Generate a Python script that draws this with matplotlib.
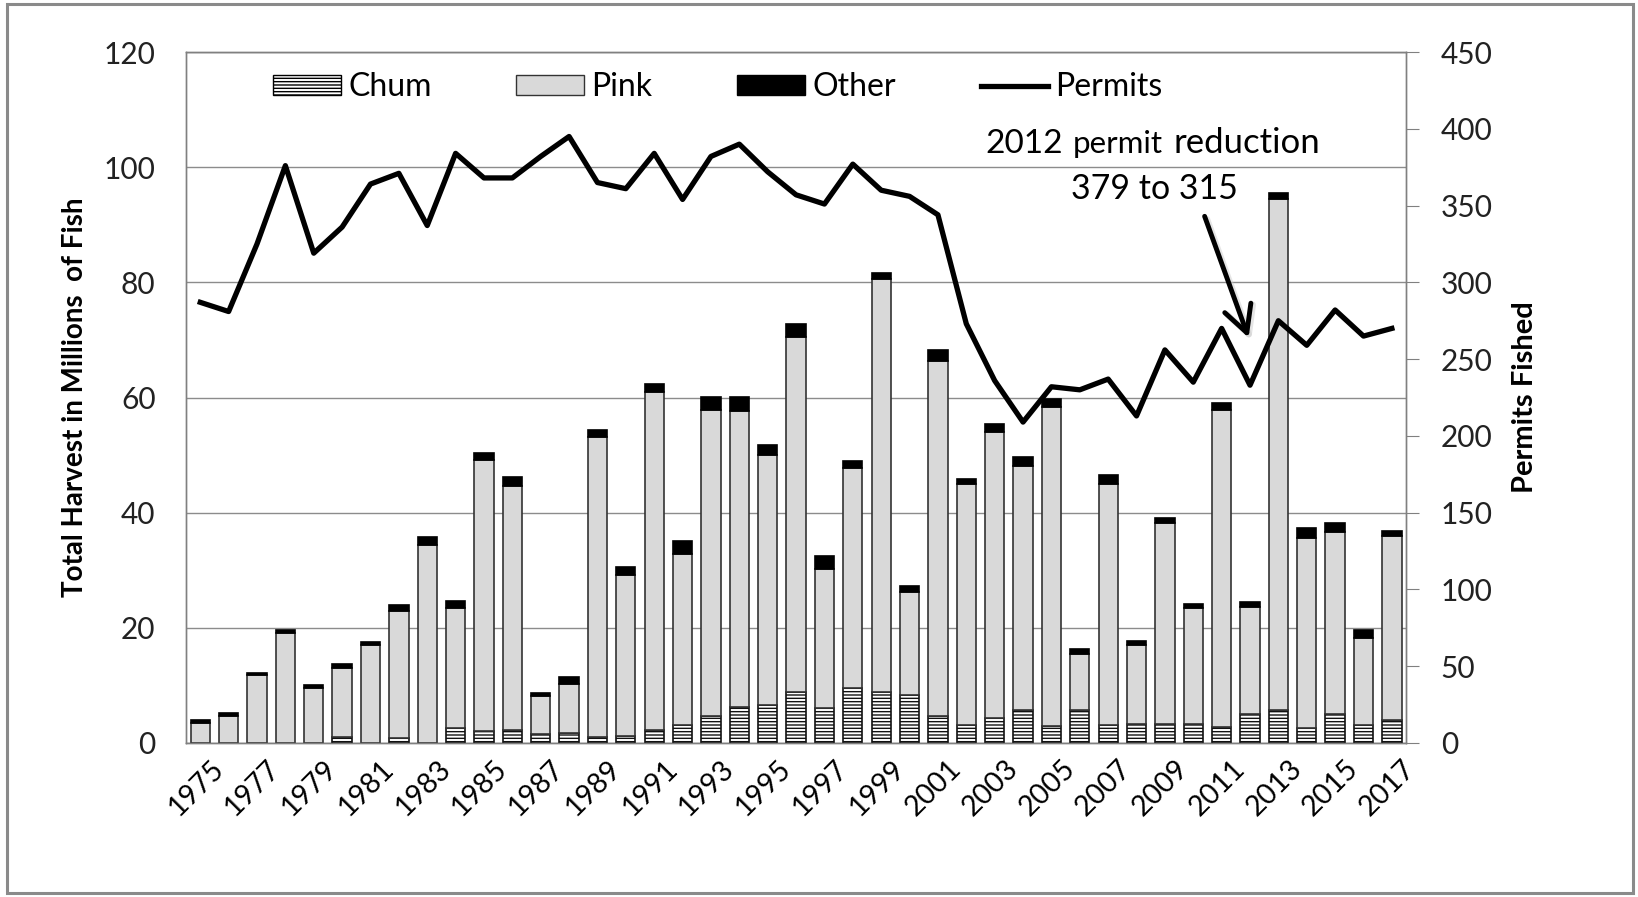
import matplotlib.pyplot as plt
from matplotlib.patches import Rectangle, Patch
from matplotlib.lines import Line2D
from matplotlib.transforms import ScaledTranslation

plt.rcParams['font.family'] = ['Lato', 'DejaVu Sans']
plt.rcParams['hatch.linewidth'] = 1.0

# Werte (Mio. Fische, Permits)
years = list(range(1975, 2018))
chum = [0.0, 0.0, 0.0, 0.0, 0.0, 1.0, 0.0, 0.8, 0.0, 2.6,
        2.1, 2.2, 1.5, 1.8, 1.1, 1.2, 2.2, 3.1, 4.7, 6.2,
        6.6, 8.9, 6.0, 9.6, 8.9, 8.4, 4.7, 3.1, 4.3, 5.7,
        3.0, 5.7, 3.1, 3.3, 3.3, 3.3, 2.7, 5.0, 5.8, 2.6,
        5.0, 3.1, 4.0]
pink = [3.4, 4.6, 11.8, 19.1, 9.5, 12.1, 17.0, 22.1, 34.4, 20.9,
        47.0, 42.5, 6.7, 8.5, 52.0, 28.0, 58.7, 29.7, 53.2, 51.5,
        43.4, 61.6, 24.3, 38.1, 71.7, 17.9, 61.7, 41.8, 49.7, 42.4,
        55.4, 9.7, 41.8, 13.7, 34.9, 20.2, 55.1, 18.7, 88.7, 33.0,
        31.7, 15.2, 31.9]
other = [0.6, 0.6, 0.4, 0.6, 0.6, 0.7, 0.5, 1.0, 1.3, 1.1,
         1.2, 1.5, 0.5, 1.2, 1.3, 1.3, 1.4, 2.2, 2.2, 2.4,
         1.7, 2.3, 2.1, 1.3, 1.1, 0.9, 1.8, 0.9, 1.4, 1.6,
         1.4, 0.9, 1.6, 0.7, 0.8, 0.6, 1.2, 0.8, 1.1, 1.7,
         1.5, 1.3, 1.0]
permits = [287, 281, 325, 376, 319, 336, 364, 371, 337, 384,
           368, 368, 382, 395, 365, 361, 384, 354, 382, 390,
           372, 357, 351, 377, 360, 356, 344, 273, 236, 209,
           232, 230, 237, 213, 256, 235, 270, 233, 275, 259,
           282, 265, 270]

left_ticks = list(range(0, 121, 20))
right_ticks = list(range(0, 451, 50))

fig = plt.figure(figsize=(16.38, 8.97), dpi=100)
fig.patches.append(Rectangle((7 / 1638, 4 / 897), 1626 / 1638, 889 / 897,
                             transform=fig.transFigure, fill=False,
                             edgecolor='#8a8a8a', lw=2.2))

ax = fig.add_axes([0.1136, 0.1717, 0.7448, 0.7703])
pink_bottom = chum
other_bottom = [c + p for c, p in zip(chum, pink)]
w = 0.68
ax.bar(years, chum, w, color='white', edgecolor='#111111', hatch='-----',
       lw=1.2, zorder=3)
ax.bar(years, pink, w, bottom=pink_bottom, color='#d9d9d9',
       edgecolor='#333333', lw=1.2, zorder=3)
ax.bar(years, other, w, bottom=other_bottom, color='black',
       edgecolor='black', lw=1.2, zorder=3)

ax.set_xlim(1974.5, 2017.5)
ax.set_ylim(0, 120)
ax.set_yticks(left_ticks)
ax.yaxis.grid(True, color='#8c8c8c', lw=1.0)
ax.set_axisbelow(True)
ax.tick_params(axis='y', length=0, pad=22, labelsize=21.5, labelcolor='#222222')
ax.set_xticks(years[::2])
ax.set_xticklabels([str(y) for y in years[::2]], rotation=45, ha='right',
                   rotation_mode='anchor', fontsize=20.5)
ax.tick_params(axis='x', length=0, pad=9)
for lbl in ax.get_xticklabels():
    lbl.set_transform(lbl.get_transform() + ScaledTranslation(0.10, 0, fig.dpi_scale_trans))
for s in ax.spines.values():
    s.set_color('#808080')
    s.set_linewidth(1.0)
ax.set_ylabel("Total Harvest in Millions  of Fish", fontsize=20, fontweight='bold')
ax.yaxis.set_label_coords(-0.0805, 0.5)

# --- Permits auf rechter Achse ---
ax2 = ax.twinx()
ax2.plot(years, permits, color='black', lw=3.8, zorder=5)
ax2.set_ylim(0, 450)
ax2.set_yticks(right_ticks)
ax2.tick_params(axis='y', direction='out', length=9, color='#808080', pad=16,
                labelsize=21.5, labelcolor='#222222')
for s in ax2.spines.values():
    s.set_color('#808080')
    s.set_linewidth(1.0)
ax2.set_ylabel("Permits Fished", fontsize=21, fontweight='bold')
ax2.yaxis.set_label_coords(1.087, 0.5)

# Beschriftung der Permit-Reduktion
ax2.text(0.655, 0.854, "2012", transform=ax2.transAxes, fontsize=24, va='baseline')
ax2.text(0.727, 0.854, "permit", transform=ax2.transAxes, fontsize=22.5, va='baseline')
ax2.text(0.809, 0.854, "reduction", transform=ax2.transAxes, fontsize=25, va='baseline')
ax2.text(0.725, 0.788, "379 to 315", transform=ax2.transAxes, fontsize=24.5, va='baseline')
arrow_style = '->,head_length=0.95,head_width=0.5'
shadow = ax2.transData + ScaledTranslation(0.025, -0.03, fig.dpi_scale_trans)
ax2.annotate("", xy=(2011.95, 264), xytext=(2010.4, 343),
             xycoords=shadow, textcoords=shadow,
             arrowprops=dict(arrowstyle=arrow_style, lw=4.5, color='#cccccc',
                             alpha=0.5, mutation_scale=20, shrinkA=0, shrinkB=0))
ax2.annotate("", xy=(2011.95, 264), xytext=(2010.4, 343),
             arrowprops=dict(arrowstyle=arrow_style, lw=3.5, color='black',
                             mutation_scale=20, shrinkA=0, shrinkB=0))

handles = [Patch(facecolor='white', edgecolor='black', hatch='-----'),
           Patch(facecolor='#d9d9d9', edgecolor='#333333'),
           Patch(facecolor='black', edgecolor='black'),
           Line2D([], [], color='black', lw=3.8)]
ax2.legend(handles, ["Chum", "Pink", "Other", "Permits"], loc='center',
           bbox_to_anchor=(0.436, 0.949), ncol=4, frameon=False, fontsize=23,
           handlelength=2.12, handleheight=0.6, columnspacing=2.65,
           handletextpad=0.23)

plt.savefig("out.png", dpi=100)
